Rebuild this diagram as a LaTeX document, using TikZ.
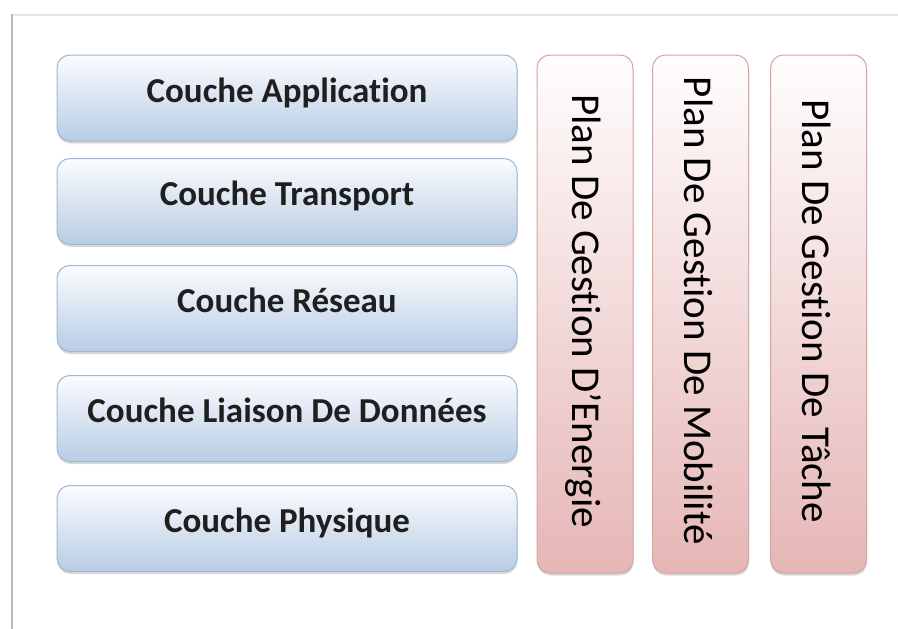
\documentclass[tikz,border=0pt]{standalone}
\usepackage{fontspec}
\setmainfont{Carlito}[Ligatures=NoCommon]
\usetikzlibrary{shadows}
\definecolor{bluetop}{HTML}{FBFCFE}
\definecolor{bluebot}{HTML}{B8CCE4}
\definecolor{blueline}{HTML}{9DB8D8}
\definecolor{pinktop}{HTML}{FFFDFD}
\definecolor{pinkbot}{HTML}{E6B6B6}
\definecolor{pinkline}{HTML}{D9A3A3}
\definecolor{frameleft}{HTML}{B8B8B8}
\definecolor{frametop}{HTML}{E6E6E6}
\tikzset{
  layerbox/.style={draw=blueline, line width=1pt, rounded corners=13pt,
    top color=bluetop, bottom color=bluebot,
    drop shadow={opacity=0.3, shadow xshift=0.5pt, shadow yshift=-2.5pt},
    minimum width=460pt, minimum height=86pt, inner sep=0pt},
  layertext/.style={anchor=base, inner sep=0pt,
    font=\fontsize{35}{40}\selectfont\bfseries, text=black!88},
  planbox/.style={draw=pinkline, line width=1pt, rounded corners=13pt,
    top color=pinktop, bottom color=pinkbot,
    drop shadow={opacity=0.3, shadow xshift=0.5pt, shadow yshift=-2.5pt},
    minimum width=96pt, minimum height=518pt, inner sep=0pt},
  plantext/.style={rotate=-90, font=\fontsize{41}{46}\selectfont, text=black, inner sep=0pt}
}
\begin{document}
\begin{tikzpicture}[x=1pt, y=-1pt]
\useasboundingbox (0,0) rectangle (898,629);
\fill[white] (0,0) rectangle (898,629);
% frame edges
\draw[frametop, line width=2.5pt] (12,15) -- (898,15);
\draw[frameleft, line width=2.5pt] (12,14) -- (12,629);
% layer boxes
\node[layerbox] (app) at (287,98) {};
\node[layerbox] (tra) at (287,201.5) {};
\node[layerbox] (res) at (287,308.5) {};
\node[layerbox] (lia) at (287,418.5) {};
\node[layerbox] (phy) at (287,528.5) {};
\node[layertext] (appt) at ([yshift=-4pt]app.center) {Couche Application};
\node[layertext] (trat) at ([yshift=-4pt]tra.center) {Couche Transport};
\node[layertext] (rest) at ([yshift=-4pt]res.center) {Couche Réseau};
\node[layertext] (liat) at ([yshift=-4pt]lia.center) {Couche Liaison De Données};
\node[layertext] (phyt) at ([yshift=-4pt]phy.center) {Couche Physique};
% plan boxes
\node[planbox] (ener) at (585,314) {};
\node[planbox] (mobi) at (700.5,314) {};
\node[planbox] (tach) at (818.5,314) {};
\node[plantext] (enert) at ([xshift=-2pt, yshift=3pt]ener.center) {Plan De Gestion D’Energie};
\node[plantext] (mobit) at ([xshift=-2pt, yshift=3pt]mobi.center) {Plan De Gestion De Mobilité};
\node[plantext] (tacht) at ([xshift=-2pt, yshift=3pt]tach.center) {Plan De Gestion De Tâche};
\end{tikzpicture}
\end{document}
